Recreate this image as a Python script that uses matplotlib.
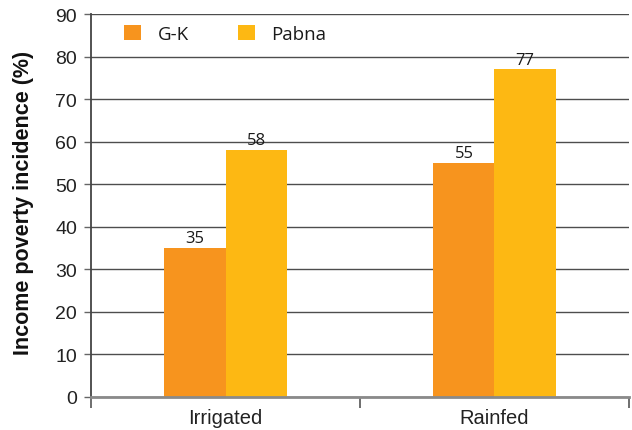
import numpy as np
import matplotlib
matplotlib.use("Agg")
import matplotlib.pyplot as plt
from matplotlib.patches import Patch

# ── data ──────────────────────────────────────────────────────────────────────
categories = ["Irrigated", "Rainfed"]
series_names = ["G-K", "Pabna"]
gk_values = [35, 55]
pabna_values = [58, 77]
y_ticks = [0, 10, 20, 30, 40, 50, 60, 70, 80, 90]

GK_COLOR = "#F7941E"
PABNA_COLOR = "#FDB813"

# ── figure ────────────────────────────────────────────────────────────────────
fig = plt.figure(figsize=(6.32, 4.31), dpi=100, facecolor="white")
ax = fig.add_axes([91 / 632, 1 - 398 / 431, 538 / 632, 383 / 431])

x = np.arange(len(categories))
w = 0.227

bars_gk = ax.bar(x - w / 2, gk_values, width=w, color=GK_COLOR, zorder=3)
bars_pb = ax.bar(x + w / 2, pabna_values, width=w, color=PABNA_COLOR, zorder=3)

# value labels above bars
for bars, vals in [(bars_gk, gk_values), (bars_pb, pabna_values)]:
    for b, v in zip(bars, vals):
        ax.text(b.get_x() + b.get_width() / 2, v + 0.4, f"{v}",
                ha="center", va="bottom", fontsize=12,
                family="Open Sans", color="#1a1a1a", zorder=4)

ax.set_xlim(-0.5, 1.5)
ax.set_ylim(0, 90)
ax.set_yticks(y_ticks)
ax.yaxis.grid(True, color="#4d4d4d", lw=1.0, zorder=0)
ax.set_axisbelow(True)

# category ticks sit on the group boundaries
ax.set_xticks(x)
ax.set_xticklabels(categories, fontsize=14.5, family="Liberation Sans",
                   color="#222222")
ax.tick_params(axis="x", which="major", length=0, pad=8)
ax.set_xticks([-0.5, 0.5, 1.5], minor=True)
ax.tick_params(axis="x", which="minor", length=8, width=1.2,
               color="#555555", direction="out")
ax.tick_params(axis="y", length=5, width=1.0, color="#666666", pad=5,
               labelsize=14, labelcolor="#222222")
for lab in ax.get_yticklabels():
    lab.set_family("Liberation Sans")

for side in ["top", "right"]:
    ax.spines[side].set_visible(False)
ax.spines["left"].set_color("#444444")
ax.spines["left"].set_linewidth(1.3)
ax.spines["bottom"].set_color("#8a8a8a")
ax.spines["bottom"].set_linewidth(2.0)
ax.spines["bottom"].set_zorder(5)

ax.set_ylabel("Income poverty incidence (%)", fontsize=15.5,
              fontweight="bold", family="Liberation Sans", color="#111111")
ax.yaxis.set_label_coords(-0.106, 0.51)

# legend with square swatches
handles = [Patch(facecolor=GK_COLOR, edgecolor="none"),
           Patch(facecolor=PABNA_COLOR, edgecolor="none")]
ax.legend(handles, series_names, loc="center left",
          bbox_to_anchor=((124 - 91) / 538, (398 - 35) / 383),
          ncol=2, frameon=False, borderpad=0, borderaxespad=0,
          handlelength=0.9, handleheight=0.9, handletextpad=0.9,
          columnspacing=2.6, labelcolor="#1a1a1a",
          prop={"family": "Open Sans", "size": 13.5})

fig.savefig("out.png", dpi=100, facecolor="white")
